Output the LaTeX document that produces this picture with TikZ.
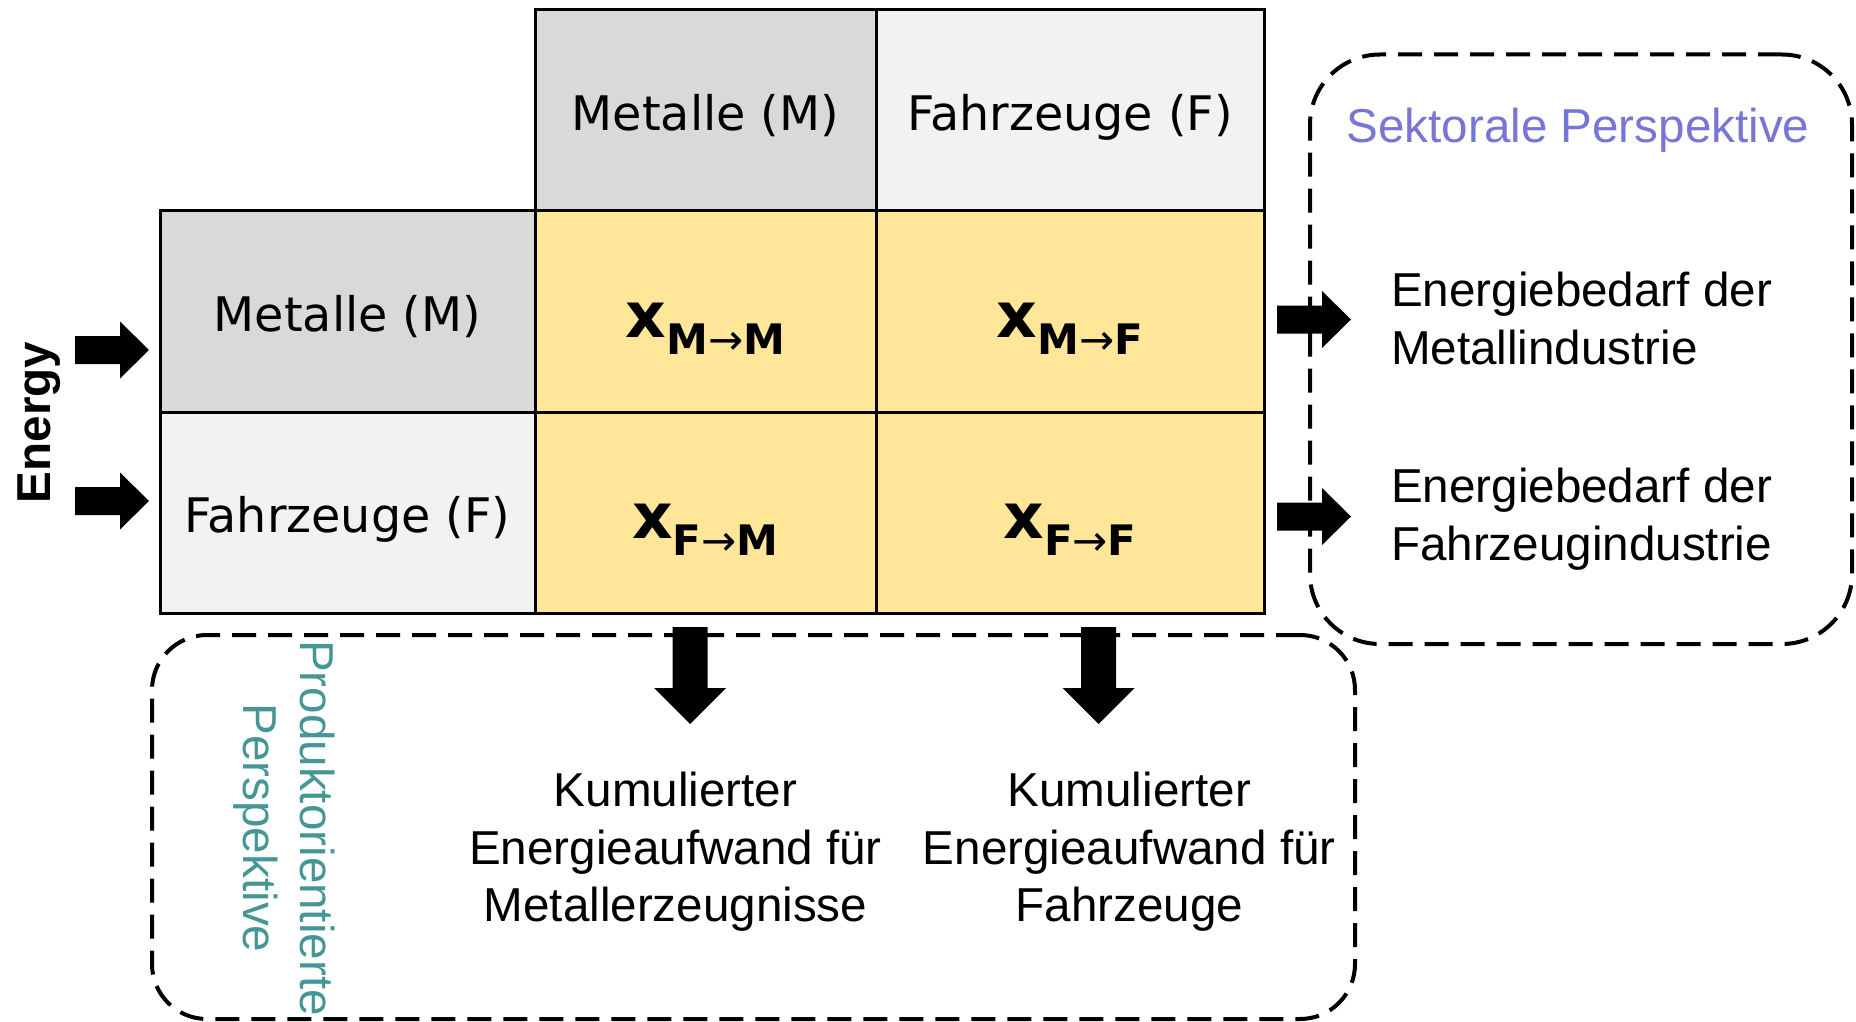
\documentclass[tikz,border=0pt]{standalone}
\usepackage{fontspec}
\setmainfont{Liberation Sans}
\newfontfamily\dvfont{DejaVu Sans}
\definecolor{hdrM}{HTML}{D9D9D9}
\definecolor{hdrF}{HTML}{F2F2F2}
\definecolor{cellY}{HTML}{FFE699}
\definecolor{sektor}{RGB}{118,118,214}
\definecolor{produkt}{RGB}{70,150,150}
\newcommand{\mainsize}{\fontsize{47.6pt}{57.5pt}\selectfont}
\newcommand{\xlab}[2]{{\dvfont\bfseries\fontsize{63pt}{63pt}\selectfont x}\raisebox{-17pt}{\dvfont\bfseries\fontsize{42pt}{42pt}\selectfont #1{\mdseries→}#2}}
\tikzset{
  every node/.style={font=\mainsize, inner sep=0pt, outer sep=0pt},
  cellbox/.style={draw=black, line width=3pt, anchor=north west, text height=40pt, text depth=0pt, font=\dvfont\mainsize},
  xcell/.style={cellbox, fill=cellY, text height=52pt, text depth=0pt},
  dashbox/.style={draw=black, line width=4pt, dash pattern=on 24pt off 12pt},
  rarrow/.pic={\fill[black] (0,-14) -- (45,-14) -- (45,-28.5) -- (74,0) -- (45,28.5) -- (45,14) -- (0,14) -- cycle;},
  darrow/.pic={\fill[black] (-17.5,0) -- (-17.5,61) -- (-36,61) -- (0,97) -- (36,61) -- (17.5,61) -- (17.5,0) -- cycle;}
}
\begin{document}
\begin{tikzpicture}[x=1pt,y=-1pt]
\useasboundingbox (0,0) rectangle (1856,1022);
% dashed perspective boxes
\node[dashbox, rounded corners=70pt, minimum width=542pt, minimum height=589.5pt] (sekbox) at (1581,349.25) {};
\node[dashbox, rounded corners=55pt, minimum width=1203pt, minimum height=384pt] (probox) at (753.5,827) {};
% table
\node[cellbox, fill=hdrM, minimum width=341pt, minimum height=201.2pt] (hM) at (535,9.5) {Metalle (M)};
\node[cellbox, fill=hdrF, minimum width=388pt, minimum height=201.2pt] (hF) at (876,9.5) {Fahrzeuge (F)};
\node[cellbox, fill=hdrM, minimum width=375pt, minimum height=201.3pt] (rM) at (160,210.7) {Metalle (M)};
\node[cellbox, fill=hdrF, minimum width=375pt, minimum height=201pt] (rF) at (160,412) {Fahrzeuge (F)};
\node[xcell, minimum width=341pt, minimum height=201.3pt] (mm) at (535,210.7) {\xlab{M}{M}};
\node[xcell, minimum width=388pt, minimum height=201.3pt] (mf) at (876,210.7) {\xlab{M}{F}};
\node[xcell, minimum width=341pt, minimum height=201pt] (fm) at (535,412) {\xlab{F}{M}};
\node[xcell, minimum width=388pt, minimum height=201pt] (ff) at (876,412) {\xlab{F}{F}};
% energy input
\node[rotate=90, anchor=base, font=\bfseries\mainsize] (energy) at (50,422.5) {Energy};
\pic at (75,350) {rarrow};
\pic at (75,501) {rarrow};
% sectoral perspective
\node[anchor=base, text=sektor] (sektitle) at (1578,142.3) {Sektorale Perspektive};
\pic at (1277,319.5) {rarrow};
\pic at (1277,516.5) {rarrow};
\node[anchor=base west, align=left] (bedM) at (1391,364) {Energiebedarf der\\Metallindustrie};
\node[anchor=base west, align=left] (bedF) at (1391,560) {Energiebedarf der\\Fahrzeugindustrie};
% product perspective
\pic at (690,627) {darrow};
\pic at (1098.6,627) {darrow};
\node[anchor=base, align=center] (kumM) at (675.5,921.7) {Kumulierter\\Energieaufwand für\\Metallerzeugnisse};
\node[anchor=base, align=center] (kumF) at (1129.3,921.7) {Kumulierter\\Energieaufwand für\\Fahrzeuge};
\node[rotate=-90, anchor=base, align=center, text=produkt] (protitle) at (243,828) {Produktorientierte\\Perspektive};
\end{tikzpicture}
\end{document}
